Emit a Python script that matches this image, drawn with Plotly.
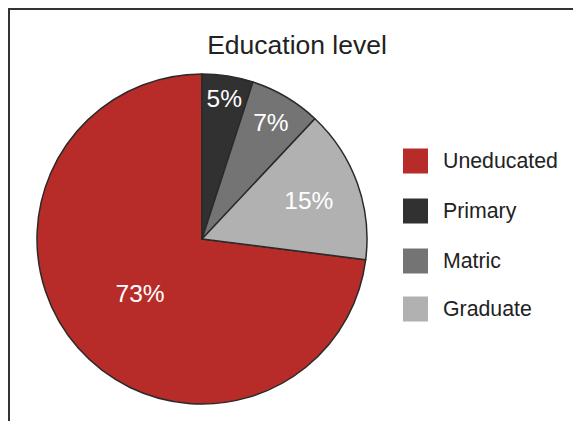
import plotly.graph_objects as go

categories = ["Uneducated", "Primary", "Matric", "Graduate"]
values = [73, 5, 7, 15]
colors = ["#B72C28", "#313131", "#747474", "#B1B1B1"]
title_text = "Education level"

W, H = 581, 421
OFF = 8  # page body margin in the screenshot
FONT = "Liberation Sans, Arial, Helvetica, sans-serif"

def px(x):
    return (x - OFF) / W

def py(y):
    return 1 - (y - OFF) / H

fig = go.Figure()
fig.add_trace(go.Pie(
    labels=categories,
    values=values,
    sort=False,
    direction="clockwise",
    rotation=(100 - values[0]) * 3.6,
    marker=dict(colors=colors, line=dict(color="#2a2a2a", width=1.5)),
    texttemplate="%{value}%",
    textposition="inside",
    insidetextorientation="horizontal",
    textfont=dict(color="white", size=24.5, family=FONT),
    domain=dict(x=[px(37), px(367)], y=[py(404), py(74)]),
    showlegend=False,
    hoverinfo="label+percent",
))

shapes = [
    dict(type="line", xref="paper", yref="paper", x0=0, x1=1.0, y0=1 - 1 / H, y1=1 - 1 / H,
         line=dict(color="#333333", width=2)),
    dict(type="line", xref="paper", yref="paper", x0=1 / W, x1=1 / W, y0=1, y1=0,
         line=dict(color="#333333", width=2)),
]
annotations = []
row_y = [161, 211, 261, 309]
for cat, col, yc in zip(categories, colors, row_y):
    shapes.append(dict(type="rect", xref="paper", yref="paper",
                       x0=px(403), x1=px(428), y0=py(yc + 12.5), y1=py(yc - 12.5),
                       fillcolor=col, line=dict(width=0)))
    annotations.append(dict(text=cat, xref="paper", yref="paper", x=px(441), y=py(yc),
                            xanchor="left", yanchor="middle", showarrow=False,
                            font=dict(size=21.3, color="#222222", family=FONT)))

fig.update_layout(
    width=W, height=H,
    margin=dict(l=0, r=0, t=0, b=0),
    paper_bgcolor="white",
    plot_bgcolor="white",
    title=dict(text=title_text, x=px(297), xanchor="center", y=py(45), yanchor="middle",
               font=dict(size=26.5, color="#222222", family=FONT)),
    uniformtext=dict(minsize=24.5, mode="show"),
    shapes=shapes,
    annotations=annotations,
)

fig.write_html("out.html")
